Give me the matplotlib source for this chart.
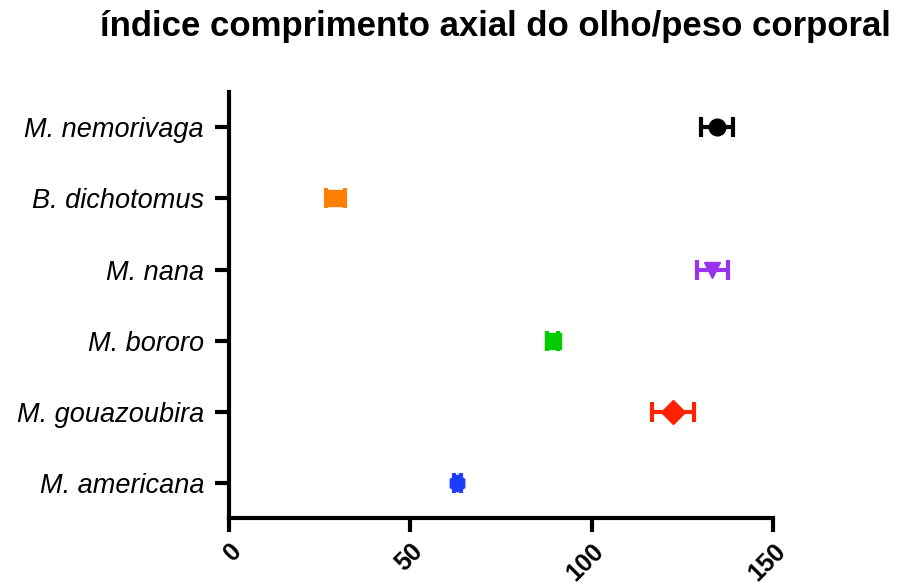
import matplotlib.pyplot as plt
import numpy as np

species = ['M. nemorivaga', 'B. dichotomus', 'M. nana', 'M. bororo',
           'M. gouazoubira', 'M. americana']
means = [134.5, 29.3, 133.3, 89.3, 122.4, 62.9]
errors = [4.5, 2.6, 4.3, 1.5, 5.8, 1.0]
colors = ['#000000', '#ff8000', '#9933ee', '#00cc00', '#ff2200', '#1a3dff']
markers = ['o', 's', 'v', 's', 'D', 'h']
xticks = [0, 50, 100, 150]

fig = plt.figure(figsize=(9.07, 5.87), dpi=100)
ax = fig.add_axes([0.2525, 0.1175, 0.5998, 0.7258])

ypos = np.arange(len(species))[::-1]
for y, m, e, c, mk in zip(ypos, means, errors, colors, markers):
    ax.errorbar(m, y, xerr=e, fmt=mk, color=c, markersize=12,
                elinewidth=3, capsize=7, capthick=3)

ax.set_xlim(0, 150)
ax.set_ylim(-0.5, len(species) - 0.5)
ax.set_xticks(xticks)
ax.set_xticklabels([str(t) for t in xticks], rotation=45, ha='right',
                   rotation_mode='anchor', fontsize=18, fontweight='bold',
                   family='Liberation Sans')
ax.set_yticks(ypos)
ax.set_yticklabels(species, fontsize=19.5, style='italic',
                   family='Liberation Sans')

for side in ['top', 'right']:
    ax.spines[side].set_visible(False)
for side in ['left', 'bottom']:
    ax.spines[side].set_linewidth(3)
ax.tick_params(axis='both', width=3, length=10)
ax.tick_params(axis='x', pad=5)
ax.tick_params(axis='y', pad=8)

fig.text(0.11, 0.955, 'índice comprimento axial do olho/peso corporal',
         fontsize=25, fontweight='bold', family='Liberation Sans',
         ha='left', va='center')

fig.savefig('out.png', dpi=100)
